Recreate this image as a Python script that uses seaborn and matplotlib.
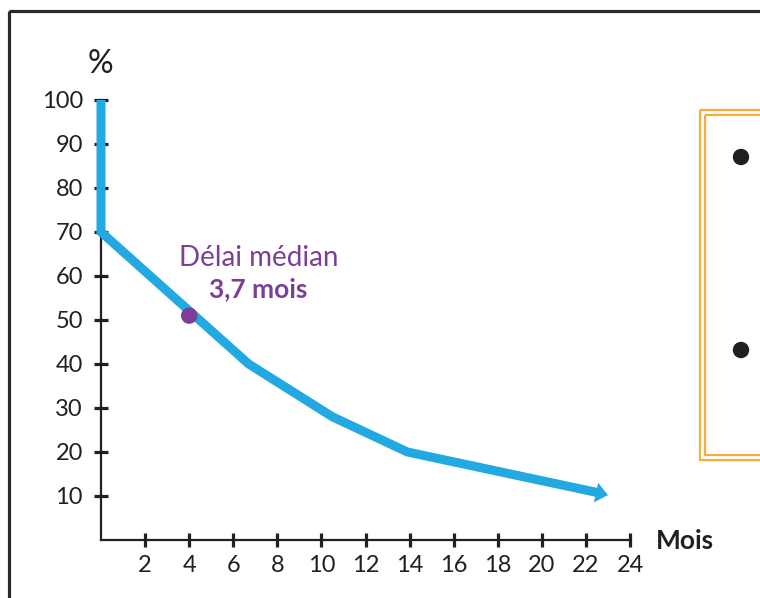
import matplotlib
matplotlib.use("Agg")
import matplotlib.pyplot as plt
import seaborn as sns
from matplotlib.patches import Rectangle, Circle

# courbe (mois, % de patients)
months = [0, 0, 6.7, 10.5, 13.9, 22.6]
percent = [100, 70, 40, 28, 20, 10.7]
arrow_tip = (23.0, 10.2)

median_month = [4.0]
median_pct = [51]
median_label = "Délai médian"
median_value = "3,7 mois"

x_ticks = [2, 4, 6, 8, 10, 12, 14, 16, 18, 20, 22, 24]
y_ticks = [10, 20, 30, 40, 50, 60, 70, 80, 90, 100]

blue = "#23a9e1"
purple = "#7b3f98"
dark = "#231f20"
orange = "#f8ac3e"

sns.set_style("white")
plt.rcParams["font.family"] = ["Lato", "DejaVu Sans"]

W, H = 760, 598
fig = plt.figure(figsize=(W / 100, H / 100), dpi=100)

# decor in pixel coords
deco = fig.add_axes([0, 0, 1, 1], zorder=-1)
deco.set_xlim(0, W)
deco.set_ylim(H, 0)
deco.axis("off")
deco.add_patch(Rectangle((9, 11), 800, 700, fill=False, lw=2.3, ec="#2b2b2b"))
deco.add_patch(Rectangle((700, 110), 100, 350, fill=False, lw=1.6, ec=orange))
deco.add_patch(Rectangle((705, 115), 100, 340, fill=False, lw=1.6, ec=orange))
deco.add_patch(Circle((741, 157), 7.5, color=dark))
deco.add_patch(Circle((741, 350), 7.5, color=dark))

ax = fig.add_axes([101 / W, 58 / H, 529 / W, 440 / H])
ax.set_xlim(0, 24)
ax.set_ylim(0, 100)
ax.patch.set_alpha(0)

sns.lineplot(x=months, y=percent, estimator=None, sort=False, ax=ax,
             color=blue, lw=6.5, zorder=4, clip_on=False)
for line in ax.lines:
    line.set_solid_joinstyle("miter")
    line.set_solid_capstyle("butt")

ax.annotate("", xy=arrow_tip, xytext=(months[-2], percent[-2]),
            arrowprops=dict(arrowstyle="-|>,head_length=0.55,head_width=0.45",
                            color=blue, lw=0, mutation_scale=16,
                            shrinkA=0, shrinkB=0),
            annotation_clip=False, zorder=4)

sns.scatterplot(x=median_month, y=median_pct, ax=ax, s=140, color=purple,
                edgecolor="none", zorder=6, clip_on=False)

ax.text(7.15, 64.1, median_label, color=purple, fontsize=20,
        ha="center", va="center")
ax.text(7.15, 57.0, median_value, color=purple, fontsize=19,
        ha="center", va="center", fontweight="bold")

for s in ["top", "right"]:
    ax.spines[s].set_visible(False)
for s in ["left", "bottom"]:
    ax.spines[s].set_color(dark)
    ax.spines[s].set_linewidth(1.6)
    ax.spines[s].set_zorder(3)

ax.set_xticks(x_ticks)
ax.set_yticks(y_ticks)
ax.tick_params(bottom=True, left=True, direction="inout", length=10,
               width=2.3, color=dark, labelsize=17, labelcolor=dark)
ax.tick_params(axis="y", pad=8)
ax.tick_params(axis="x", pad=6)

ax.set_xlabel("")
ax.set_ylabel("")
fig.text(100 / W, 1 - 64 / H, "%", fontsize=23, ha="center", va="center",
         color=dark)
fig.text(656 / W, 1 - 541 / H, "Mois", fontsize=19, fontweight="bold",
         ha="left", va="center", color=dark)

fig.savefig("out.png", dpi=100)
